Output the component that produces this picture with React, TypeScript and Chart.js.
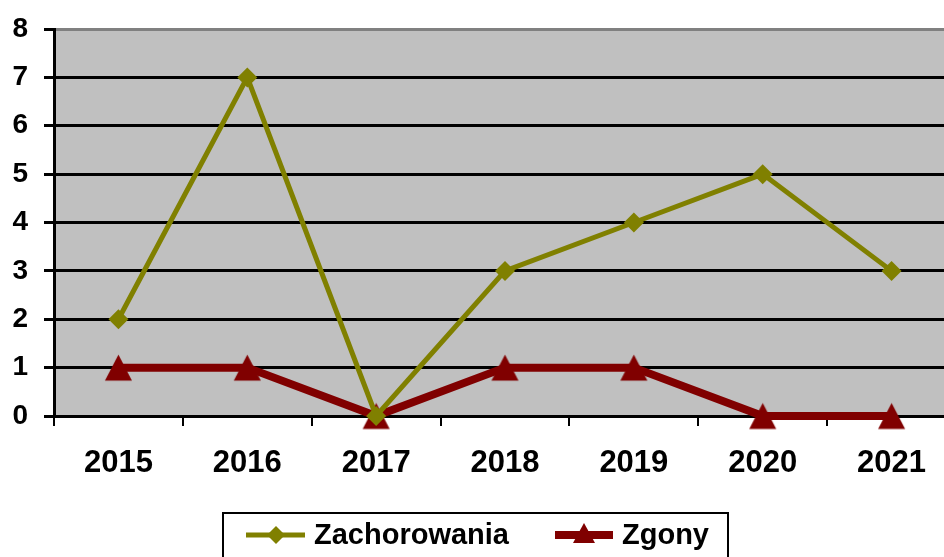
import React, { useEffect, useRef } from "react";
import { Chart, registerables } from "chart.js";

Chart.register(...registerables);

const categories = ["2015", "2016", "2017", "2018", "2019", "2020", "2021"];
const zachorowania = [2, 7, 0, 3, 4, 5, 3];
const zgony = [1, 1, 0, 1, 1, 0, 0];
const yTicks = [0, 1, 2, 3, 4, 5, 6, 7, 8];

const OLIVE = "#808000";
const MAROON = "#800000";
const FONT = "'Liberation Sans', Arial, sans-serif";

function makeTriangle(color: string, w: number, h: number) {
  const c = document.createElement("canvas");
  const size = Math.ceil(Math.max(w, h)) + 2;
  c.width = size;
  c.height = size;
  const ctx = c.getContext("2d")!;
  const cx = size / 2;
  const top = (size - h) / 2;
  ctx.fillStyle = color;
  ctx.beginPath();
  ctx.moveTo(cx, top);
  ctx.lineTo(cx + w / 2, top + h);
  ctx.lineTo(cx - w / 2, top + h);
  ctx.closePath();
  ctx.fill();
  return c;
}

export default function App() {
  const ref = useRef<HTMLCanvasElement | null>(null);

  useEffect(() => {
    if (!ref.current) return;
    const tri = makeTriangle(MAROON, 27, 26);
    const legTri = makeTriangle(MAROON, 22, 20);

    const bgPlugin = {
      id: "plotBg",
      beforeDraw(chart: any) {
        const { ctx, chartArea } = chart;
        ctx.save();
        ctx.fillStyle = "#C0C0C0";
        ctx.fillRect(chartArea.left, chartArea.top, chartArea.right - chartArea.left, chartArea.bottom - chartArea.top);
        ctx.restore();
      },
    };

    const legendPlugin = {
      id: "customLegend",
      afterDraw(chart: any) {
        const ctx = chart.ctx;
        ctx.save();
        ctx.strokeStyle = "#000";
        ctx.lineWidth = 2;
        ctx.strokeRect(223, 513, 505, 60);
        ctx.font = `bold 29px ${FONT}`;
        ctx.textBaseline = "middle";
        const y = 535;
        // Zachorowania
        ctx.strokeStyle = OLIVE;
        ctx.lineWidth = 5;
        ctx.beginPath();
        ctx.moveTo(246, y);
        ctx.lineTo(305, y);
        ctx.stroke();
        ctx.fillStyle = OLIVE;
        ctx.beginPath();
        ctx.moveTo(276, y - 9);
        ctx.lineTo(285, y);
        ctx.lineTo(276, y + 9);
        ctx.lineTo(267, y);
        ctx.closePath();
        ctx.fill();
        ctx.fillStyle = "#000";
        ctx.fillText(chart.data.datasets[0].label, 314, y + 1);
        // Zgony
        ctx.strokeStyle = MAROON;
        ctx.lineWidth = 8;
        ctx.beginPath();
        ctx.moveTo(555, y);
        ctx.lineTo(613, y);
        ctx.stroke();
        ctx.drawImage(legTri, 584 - legTri.width / 2, y - 2 - legTri.height / 2);
        ctx.fillStyle = "#000";
        ctx.fillText(chart.data.datasets[1].label, 622, y + 1);
        ctx.restore();
      },
    };

    const chart = new Chart(ref.current, {
      type: "line",
      data: {
        labels: categories,
        datasets: [
          {
            label: "Zachorowania",
            data: zachorowania,
            borderColor: OLIVE,
            backgroundColor: OLIVE,
            borderWidth: 5,
            pointStyle: "rectRot",
            pointRadius: 10,
            pointBackgroundColor: OLIVE,
            pointBorderColor: OLIVE,
            pointBorderWidth: 0,
            tension: 0,
            clip: false as any,
          },
          {
            label: "Zgony",
            data: zgony,
            borderColor: MAROON,
            backgroundColor: MAROON,
            borderWidth: 8,
            pointStyle: tri as any,
            pointRadius: 13,
            tension: 0,
            clip: false as any,
          },
        ],
      },
      options: {
        animation: false,
        responsive: false,
        layout: { padding: { top: 29, right: 5, left: 0, bottom: 0 } },
        plugins: { legend: { display: false }, tooltip: { enabled: false } },
        scales: {
          x: {
            offset: true,
            afterFit(scale: any) {
              scale.height = 141;
            },
            grid: {
              offset: true,
              drawOnChartArea: false,
              drawTicks: true,
              tickLength: 10,
              tickColor: "#000",
              lineWidth: 2,
            },
            border: { color: "#000", width: 3 },
            ticks: {
              color: "#000",
              font: { family: FONT, size: 31, weight: "bold" },
              padding: 19,
              maxRotation: 0,
            },
          },
          y: {
            min: 0,
            max: 8,
            afterFit(scale: any) {
              scale.width = 54;
              scale.paddingTop = 0;
              scale.paddingBottom = 0;
            },
            afterBuildTicks(scale: any) {
              scale.ticks = yTicks.map((v) => ({ value: v }));
            },
            grid: {
              color: (c: any) => (c.tick && c.tick.value === 8 ? "#808080" : "#000"),
              lineWidth: 3,
              tickLength: 10,
              tickColor: "#000",
            },
            border: { color: "#000", width: 3 },
            ticks: {
              color: "#000",
              font: { family: FONT, size: 28, weight: "bold" },
              padding: 16,
              stepSize: 1,
            },
          },
        },
      },
      plugins: [bgPlugin, legendPlugin],
    });
    return () => chart.destroy();
  }, []);

  return (
    <div style={{ position: "fixed", left: 0, top: 0, width: 944, height: 557, overflow: "hidden", background: "#fff" }}>
      <canvas ref={ref} width={977} height={557} style={{ display: "block", width: 977, height: 557 }} />
    </div>
  );
}
